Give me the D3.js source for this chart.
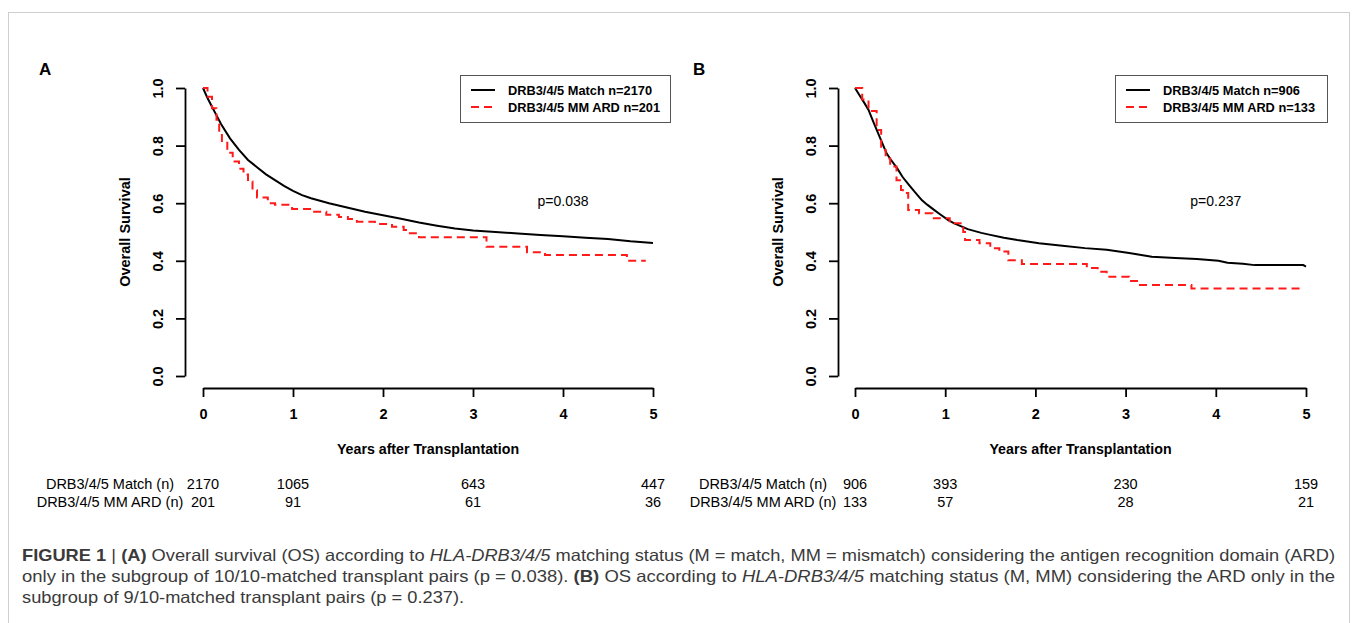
<!DOCTYPE html>
<html>
<head>
<meta charset="utf-8">
<script src="https://cdn.jsdelivr.net/npm/d3@7.9.0/dist/d3.min.js"></script>
<style>
  body { margin: 0; background: #fff; }
  svg { display: block; font-family: "Liberation Sans", Arial, sans-serif; }
</style>
</head>
<body>
<div id="fig"></div>
<script>
// --- data ---
const yearTicks = [0, 1, 2, 3, 4, 5];
const survTicks = [0, 0.2, 0.4, 0.6, 0.8, 1.0];
const riskYears = [0, 1, 3, 5];

// panel A (10/10 matched)
const aMatchTime = [0, 0.05, 0.1, 0.15, 0.2, 0.3, 0.4, 0.5, 0.6, 0.7, 0.8, 0.9, 1.0, 1.1, 1.2, 1.4, 1.6, 1.8, 2.0, 2.2, 2.4, 2.6, 2.8, 3.0, 3.25, 3.5, 3.75, 4.0, 4.25, 4.5, 4.75, 5.0];
const aMatchSurv = [1.0, 0.965, 0.935, 0.905, 0.875, 0.825, 0.785, 0.75, 0.725, 0.70, 0.68, 0.66, 0.643, 0.628, 0.617, 0.600, 0.585, 0.570, 0.558, 0.546, 0.533, 0.522, 0.512, 0.505, 0.500, 0.495, 0.490, 0.485, 0.480, 0.476, 0.468, 0.462];
const aMmTime = [0, 0.05, 0.1, 0.15, 0.18, 0.21, 0.27, 0.33, 0.4, 0.45, 0.5, 0.55, 0.6, 0.72, 0.8, 0.99, 1.22, 1.37, 1.51, 1.61, 1.71, 1.91, 2.1, 2.23, 2.28, 2.4, 3.15, 3.6, 3.8, 4.71, 4.92];
const aMmSurv = [1.0, 0.97, 0.93, 0.89, 0.84, 0.81, 0.775, 0.745, 0.72, 0.70, 0.675, 0.645, 0.62, 0.60, 0.595, 0.58, 0.57, 0.56, 0.552, 0.545, 0.536, 0.528, 0.518, 0.507, 0.496, 0.482, 0.449, 0.43, 0.42, 0.40, 0.40];
const aRiskMatch = [2170, 1065, 643, 447];
const aRiskMm = [201, 91, 61, 36];

// panel B (9/10 matched)
const bMatchTime = [0, 0.05, 0.1, 0.15, 0.2, 0.25, 0.3, 0.35, 0.4, 0.47, 0.53, 0.6, 0.66, 0.74, 0.8, 0.88, 0.95, 1.03, 1.1, 1.25, 1.4, 1.5, 1.65, 1.8, 2.04, 2.3, 2.55, 2.79, 3.04, 3.29, 3.55, 3.79, 4.03, 4.13, 4.3, 4.43, 4.7, 4.97, 5.0];
const bMatchSurv = [1.0, 0.975, 0.95, 0.924, 0.885, 0.848, 0.81, 0.773, 0.75, 0.72, 0.69, 0.663, 0.64, 0.611, 0.595, 0.576, 0.56, 0.542, 0.53, 0.51, 0.497, 0.49, 0.48, 0.472, 0.461, 0.452, 0.444, 0.438, 0.427, 0.414, 0.41, 0.406, 0.40, 0.393, 0.39, 0.385, 0.385, 0.385, 0.38];
const bMmTime = [0, 0.08, 0.15, 0.24, 0.29, 0.34, 0.39, 0.46, 0.51, 0.53, 0.59, 0.71, 0.86, 1.05, 1.2, 1.22, 1.38, 1.5, 1.6, 1.7, 1.85, 2.57, 2.69, 2.79, 3.04, 3.14, 3.73, 4.98];
const bMmSurv = [1.0, 0.96, 0.92, 0.854, 0.785, 0.755, 0.727, 0.68, 0.646, 0.635, 0.576, 0.565, 0.548, 0.53, 0.50, 0.472, 0.461, 0.444, 0.432, 0.402, 0.389, 0.375, 0.362, 0.345, 0.33, 0.316, 0.304, 0.304];
const bRiskMatch = [906, 393, 230, 159];
const bRiskMm = [133, 57, 28, 21];

const width = 1355, height = 623;
const svg = d3.select("#fig").append("svg")
    .attr("width", width)
    .attr("height", height);

// light frame around the figure
svg.append("rect")
    .attr("x", 8.5).attr("y", 12.5)
    .attr("width", 1341).attr("height", 700)
    .attr("fill", "none")
    .attr("stroke", "#cfcfcf");

function drawPanel(p) {
    const x = d3.scaleLinear().domain([0, 5]).range([p.x0, p.x1]);
    const y = d3.scaleLinear().domain([0, 1]).range([376, 88]);
    const g = svg.append("g");

    g.append("text")
        .attr("x", p.letterX).attr("y", 75)
        .attr("font-size", 17).attr("font-weight", "bold")
        .text(p.letter);

    // y axis
    const ya = g.append("g")
        .attr("transform", "translate(" + p.yAxisX + ",0)")
        .call(d3.axisLeft(y).tickValues(survTicks).tickFormat(d3.format(".1f")).tickSize(9).tickSizeOuter(0));
    ya.selectAll("path, line").attr("stroke", "#000").attr("stroke-width", 1.8);
    ya.selectAll("text")
        .attr("x", null).attr("dy", null)
        .attr("fill", "#000")
        .attr("font-size", 14.5).attr("font-weight", "bold")
        .attr("font-family", "Liberation Sans, Arial, sans-serif")
        .attr("text-anchor", "middle")
        .attr("dominant-baseline", "central")
        .attr("transform", "translate(-27,0) rotate(-90)");

    // x axis
    const xa = g.append("g")
        .attr("transform", "translate(0,388)")
        .call(d3.axisBottom(x).tickValues(yearTicks).tickFormat(d3.format("d")).tickSize(9).tickSizeOuter(0));
    xa.selectAll("path, line").attr("stroke", "#000").attr("stroke-width", 1.8);
    xa.selectAll("text")
        .attr("y", 26).attr("dy", null)
        .attr("fill", "#000")
        .attr("font-size", 14.5).attr("font-weight", "bold")
        .attr("font-family", "Liberation Sans, Arial, sans-serif")
        .attr("dominant-baseline", "central");

    g.append("text")
        .attr("transform", "translate(" + (p.yAxisX - 60) + "," + y(0.5) + ") rotate(-90)")
        .attr("text-anchor", "middle").attr("dominant-baseline", "central")
        .attr("font-size", 14.5).attr("font-weight", "bold")
        .text("Overall Survival");

    g.append("text")
        .attr("x", x(2.5)).attr("y", 449)
        .attr("text-anchor", "middle").attr("dominant-baseline", "central")
        .attr("font-size", 14.2).attr("font-weight", "bold")
        .text("Years after Transplantation");

    // curves
    const matchPts = p.matchTime.map((t, i) => [t, p.matchSurv[i]]);
    const mmPts = p.mmTime.map((t, i) => [t, p.mmSurv[i]]);
    g.append("path")
        .attr("d", d3.line().x(d => x(d[0])).y(d => y(d[1])).curve(d3.curveLinear)(matchPts))
        .attr("fill", "none").attr("stroke", "#000").attr("stroke-width", 2);
    g.append("path")
        .attr("d", d3.line().x(d => x(d[0])).y(d => y(d[1])).curve(d3.curveStepAfter)(mmPts))
        .attr("fill", "none").attr("stroke", "#ff1a1a").attr("stroke-width", 2)
        .attr("stroke-dasharray", "8,5");

    g.append("text")
        .attr("x", x(4)).attr("y", y(0.607))
        .attr("text-anchor", "middle").attr("dominant-baseline", "central")
        .attr("font-size", 14)
        .text(p.pText);

    // legend
    const lg = g.append("g").attr("transform", "translate(" + p.legX + ",75)");
    lg.append("rect").attr("x", 0.5).attr("y", 0.5).attr("width", p.legW).attr("height", 47)
        .attr("fill", "#fff").attr("stroke", "#555").attr("stroke-width", 1);
    const legItems = [
        { label: p.legMatch, color: "#000", dash: null },
        { label: p.legMm, color: "#ff1a1a", dash: "8,5" }
    ];
    legItems.forEach((d, i) => {
        const ly = 15 + i * 17;
        lg.append("line").attr("x1", 11).attr("x2", 35).attr("y1", ly).attr("y2", ly)
            .attr("stroke", d.color).attr("stroke-width", 2).attr("stroke-dasharray", d.dash);
        lg.append("text").attr("x", 48).attr("y", ly)
            .attr("dominant-baseline", "central")
            .attr("font-size", 12.8).attr("font-weight", "bold")
            .text(d.label);
    });

    // numbers at risk
    const rows = [
        { label: "DRB3/4/5 Match (n)", vals: p.riskMatch, y: 484 },
        { label: "DRB3/4/5 MM ARD (n)", vals: p.riskMm, y: 502 }
    ];
    rows.forEach(r => {
        g.append("text").attr("x", p.riskLabelX).attr("y", r.y)
            .attr("text-anchor", "middle").attr("dominant-baseline", "central")
            .attr("font-size", 14.5)
            .text(r.label);
        g.selectAll(null).data(riskYears).enter().append("text")
            .attr("x", d => x(d)).attr("y", r.y)
            .attr("text-anchor", "middle").attr("dominant-baseline", "central")
            .attr("font-size", 14.5)
            .text((d, i) => r.vals[i]);
    });
}

drawPanel({
    letter: "A", letterX: 39, x0: 203, x1: 653, yAxisX: 185, legX: 460, legW: 210,
    matchTime: aMatchTime, matchSurv: aMatchSurv, mmTime: aMmTime, mmSurv: aMmSurv,
    pText: "p=0.038", legMatch: "DRB3/4/5 Match n=2170", legMm: "DRB3/4/5 MM ARD n=201",
    riskMatch: aRiskMatch, riskMm: aRiskMm, riskLabelX: 110
});
drawPanel({
    letter: "B", letterX: 693, x0: 855, x1: 1306, yAxisX: 838, legX: 1115, legW: 212,
    matchTime: bMatchTime, matchSurv: bMatchSurv, mmTime: bMmTime, mmSurv: bMmSurv,
    pText: "p=0.237", legMatch: "DRB3/4/5 Match n=906", legMm: "DRB3/4/5 MM ARD n=133",
    riskMatch: bRiskMatch, riskMm: bRiskMm, riskLabelX: 763
});

// caption: the two full lines are fitted to the figure width, the last line
// gets the same squeeze so all three look alike
const captionLines = [
    { y: 555, full: true, parts: [["FIGURE 1", "b"], [" | ", ""], ["(A)", "b"], [" Overall survival (OS) according to ", ""], ["HLA-DRB3/4/5", "i"], [" matching status (M = match, MM = mismatch) considering the antigen recognition domain (ARD)", ""]] },
    { y: 576, full: true, parts: [["only in the subgroup of 10/10-matched transplant pairs (p = 0.038). ", ""], ["(B)", "b"], [" OS according to ", ""], ["HLA-DRB3/4/5", "i"], [" matching status (M, MM) considering the ARD only in the", ""]] },
    { y: 597, full: false, parts: [["subgroup of 9/10-matched transplant pairs (p = 0.237).", ""]] }
];
const captionWidth = 1313;
const capTexts = captionLines.map(line => {
    const t = svg.append("text")
        .attr("x", 22).attr("y", line.y)
        .attr("dominant-baseline", "central")
        .attr("font-size", 16.5).attr("fill", "#3a3a3a");
    line.parts.forEach(pt => {
        t.append("tspan")
            .attr("font-weight", pt[1] === "b" ? "bold" : null)
            .attr("font-style", pt[1] === "i" ? "italic" : null)
            .text(pt[0]);
    });
    return t;
});
const squeeze = captionWidth / capTexts[0].node().getComputedTextLength();
capTexts.forEach((t, i) => {
    const len = captionLines[i].full ? captionWidth : t.node().getComputedTextLength() * squeeze;
    t.attr("textLength", len).attr("lengthAdjust", "spacingAndGlyphs");
});
</script>
</body>
</html>
